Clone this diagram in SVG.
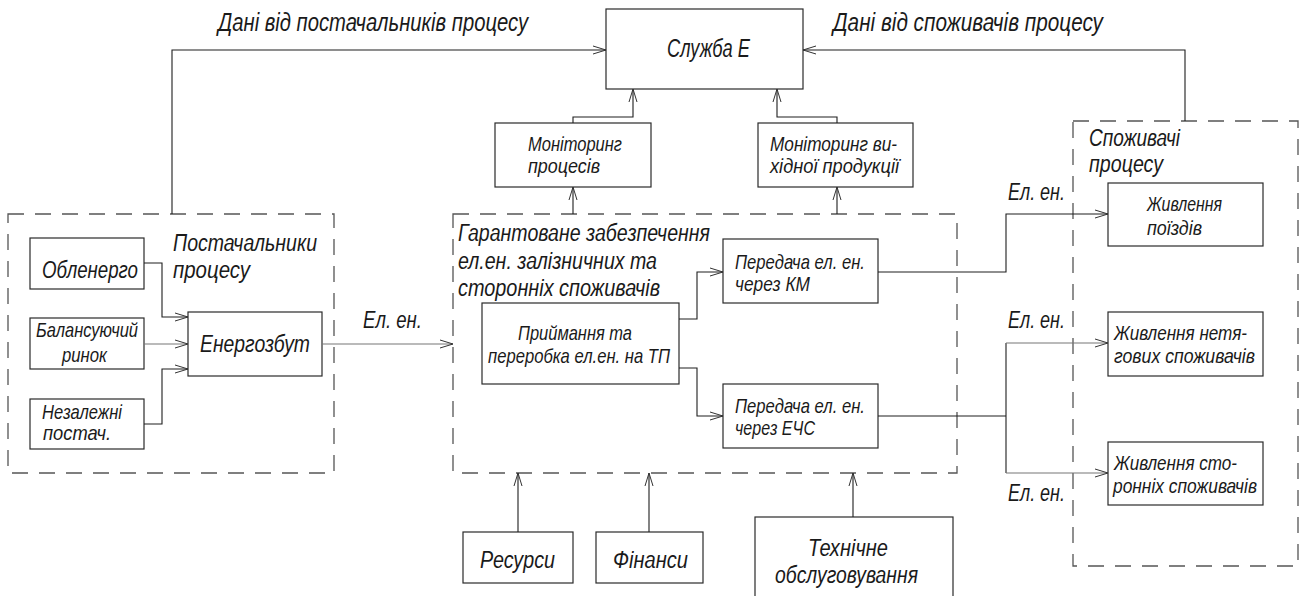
<svg xmlns="http://www.w3.org/2000/svg" width="1301" height="596" viewBox="0 0 1301 596">
<style>
text{font-family:"Liberation Sans","DejaVu Sans",sans-serif;font-style:italic;fill:#1a1a1a}
.l{font-size:25px}
.m{font-size:23px}
.s{font-size:21px}
.box{fill:#fff;stroke:#2a2a2a;stroke-width:1.2}
.grp{fill:none;stroke:#555;stroke-width:1.3;stroke-dasharray:16 11}
.c{fill:none;stroke:#1e1e1e;stroke-width:1.1}
.g{stroke:#777}
</style>
<defs>
<marker id="a" markerUnits="userSpaceOnUse" markerWidth="16" markerHeight="12" refX="13" refY="5" orient="auto">
<path d="M0,1 L13,5 L0,9" fill="none" stroke="#333" stroke-width="1"/>
</marker>
</defs>
<rect width="1301" height="596" fill="#fff"/>

<g id="labels">
<text class="l" x="218" y="31" textLength="310" lengthAdjust="spacingAndGlyphs">Дані від постачальників процесу</text>
<text class="l" x="833" y="31" textLength="270" lengthAdjust="spacingAndGlyphs">Дані від споживачів процесу</text>
<text class="m" x="363" y="328" textLength="59" lengthAdjust="spacingAndGlyphs">Ел. ен.</text>
<text class="m" x="1008" y="200" textLength="57" lengthAdjust="spacingAndGlyphs">Ел. ен.</text>
<text class="m" x="1008" y="328" textLength="57" lengthAdjust="spacingAndGlyphs">Ел. ен.</text>
<text class="m" x="1008" y="501" textLength="57" lengthAdjust="spacingAndGlyphs">Ел. ен.</text>
</g>

<g id="group-suppliers">
<rect class="grp" x="8" y="214" width="326" height="259"/>
<text class="m" x="173" y="251" textLength="144" lengthAdjust="spacingAndGlyphs">Постачальники</text>
<text class="m" x="173" y="278" textLength="77" lengthAdjust="spacingAndGlyphs">процесу</text>
</g>
<g id="group-main">
<rect class="grp" x="453" y="214" width="504" height="259"/>
<text class="m" x="458" y="241" textLength="252" lengthAdjust="spacingAndGlyphs">Гарантоване забезпечення</text>
<text class="m" x="458" y="269" textLength="199" lengthAdjust="spacingAndGlyphs">ел.ен. залізничних та</text>
<text class="m" x="458" y="296" textLength="202" lengthAdjust="spacingAndGlyphs">сторонніх споживачів</text>
</g>
<g id="group-consumers">
<rect class="grp" x="1073" y="121" width="225" height="445"/>
<text class="m" x="1089" y="146" textLength="91" lengthAdjust="spacingAndGlyphs">Споживачі</text>
<text class="m" x="1089" y="172" textLength="74" lengthAdjust="spacingAndGlyphs">процесу</text>
</g>

<g id="sluzhba">
<rect class="box" x="606" y="9" width="197" height="80"/>
<text class="l" x="667" y="57" textLength="83" lengthAdjust="spacingAndGlyphs">Служба Е</text>
</g>
<g id="mon-proc">
<rect class="box" x="495" y="123" width="156" height="64"/>
<text class="s" x="528" y="151" textLength="94" lengthAdjust="spacingAndGlyphs">Моніторинг</text>
<text class="s" x="528" y="173" textLength="72" lengthAdjust="spacingAndGlyphs">процесів</text>
</g>
<g id="mon-out">
<rect class="box" x="758" y="123" width="155" height="64"/>
<text class="s" x="770" y="151" textLength="127" lengthAdjust="spacingAndGlyphs">Моніторинг ви-</text>
<text class="s" x="770" y="173" textLength="129" lengthAdjust="spacingAndGlyphs">хідної продукції</text>
</g>

<g id="oblenergo">
<rect class="box" x="30" y="238" width="114" height="51"/>
<text class="m" x="42" y="278" textLength="96" lengthAdjust="spacingAndGlyphs">Обленерго</text>
</g>
<g id="balans">
<rect class="box" x="30" y="318" width="114" height="51"/>
<text class="s" x="36" y="337" textLength="102" lengthAdjust="spacingAndGlyphs">Балансуючий</text>
<text class="s" x="62" y="362" textLength="45" lengthAdjust="spacingAndGlyphs">ринок</text>
</g>
<g id="nezal">
<rect class="box" x="30" y="399" width="114" height="50"/>
<text class="s" x="42" y="419" textLength="80" lengthAdjust="spacingAndGlyphs">Незалежні</text>
<text class="s" x="43" y="440" textLength="68" lengthAdjust="spacingAndGlyphs">постач.</text>
</g>
<g id="energozbut">
<rect class="box" x="188" y="312" width="134" height="64"/>
<text class="m" x="200" y="352" textLength="110" lengthAdjust="spacingAndGlyphs">Енергозбут</text>
</g>

<g id="pryimannia">
<rect class="box" x="482" y="303" width="197" height="81"/>
<text class="s" x="518" y="340" textLength="114" lengthAdjust="spacingAndGlyphs">Приймання та</text>
<text class="s" x="488" y="363" textLength="182" lengthAdjust="spacingAndGlyphs">переробка ел.ен. на ТП</text>
</g>
<g id="km">
<rect class="box" x="723" y="239" width="155" height="64"/>
<text class="s" x="735" y="269" textLength="130" lengthAdjust="spacingAndGlyphs">Передача ел. ен.</text>
<text class="s" x="735" y="291" textLength="75" lengthAdjust="spacingAndGlyphs">через КМ</text>
</g>
<g id="echs">
<rect class="box" x="723" y="384" width="155" height="64"/>
<text class="s" x="735" y="413" textLength="130" lengthAdjust="spacingAndGlyphs">Передача ел. ен.</text>
<text class="s" x="735" y="435" textLength="80" lengthAdjust="spacingAndGlyphs">через ЕЧС</text>
</g>

<g id="pozdy">
<rect class="box" x="1108" y="183" width="155" height="63"/>
<text class="s" x="1147" y="211" textLength="75" lengthAdjust="spacingAndGlyphs">Живлення</text>
<text class="s" x="1147" y="235" textLength="55" lengthAdjust="spacingAndGlyphs">поїздів</text>
</g>
<g id="netiag">
<rect class="box" x="1108" y="312" width="155" height="64"/>
<text class="s" x="1114" y="340" textLength="133" lengthAdjust="spacingAndGlyphs">Живлення нетя-</text>
<text class="s" x="1114" y="363" textLength="141" lengthAdjust="spacingAndGlyphs">гових споживачів</text>
</g>
<g id="storonni">
<rect class="box" x="1108" y="442" width="155" height="63"/>
<text class="s" x="1114" y="470" textLength="123" lengthAdjust="spacingAndGlyphs">Живлення сто-</text>
<text class="s" x="1113" y="493" textLength="144" lengthAdjust="spacingAndGlyphs">ронніх споживачів</text>
</g>

<g id="resursy">
<rect class="box" x="463" y="532" width="110" height="51"/>
<text class="m" x="480" y="568" textLength="75" lengthAdjust="spacingAndGlyphs">Ресурси</text>
</g>
<g id="finansy">
<rect class="box" x="596" y="532" width="107" height="51"/>
<text class="m" x="613" y="568" textLength="75" lengthAdjust="spacingAndGlyphs">Фінанси</text>
</g>
<g id="tekhnichne">
<rect class="box" x="755" y="517" width="198" height="90"/>
<text class="m" x="808" y="556" textLength="80" lengthAdjust="spacingAndGlyphs">Технічне</text>
<text class="m" x="775" y="583" textLength="143" lengthAdjust="spacingAndGlyphs">обслуговування</text>
</g>

<g id="connectors">
<path class="c" d="M172,214 V50 H606" marker-end="url(#a)"/>
<path class="c" d="M1185,121 V50 H803" marker-end="url(#a)"/>
<path class="c" d="M573,123 V117 H633 V89" marker-end="url(#a)"/>
<path class="c" d="M837,123 V117 H777 V89" marker-end="url(#a)"/>
<path class="c" d="M573,214 V187" marker-end="url(#a)"/>
<path class="c" d="M837,214 V187" marker-end="url(#a)"/>
<path class="c" d="M144,263 H162 V317 H188" marker-end="url(#a)"/>
<path class="c g" d="M144,344 H188" marker-end="url(#a)"/>
<path class="c" d="M144,424 H162 V369 H188" marker-end="url(#a)"/>
<path class="c g" d="M322,344 H453" marker-end="url(#a)"/>
<path class="c" d="M679,319 H697 V272 H723" marker-end="url(#a)"/>
<path class="c" d="M679,368 H697 V416 H723" marker-end="url(#a)"/>
<path class="c" d="M878,272 H1006 V214 H1108" marker-end="url(#a)"/>
<path class="c" d="M878,416 H1006"/>
<path class="c" d="M1006,343 V473"/>
<path class="c g" d="M1006,343 H1108" marker-end="url(#a)"/>
<path class="c g" d="M1006,473 H1108" marker-end="url(#a)"/>
<path class="c" d="M518,532 V473" marker-end="url(#a)"/>
<path class="c" d="M649,532 V473" marker-end="url(#a)"/>
<path class="c" d="M853,517 V473" marker-end="url(#a)"/>
</g>
</svg>
